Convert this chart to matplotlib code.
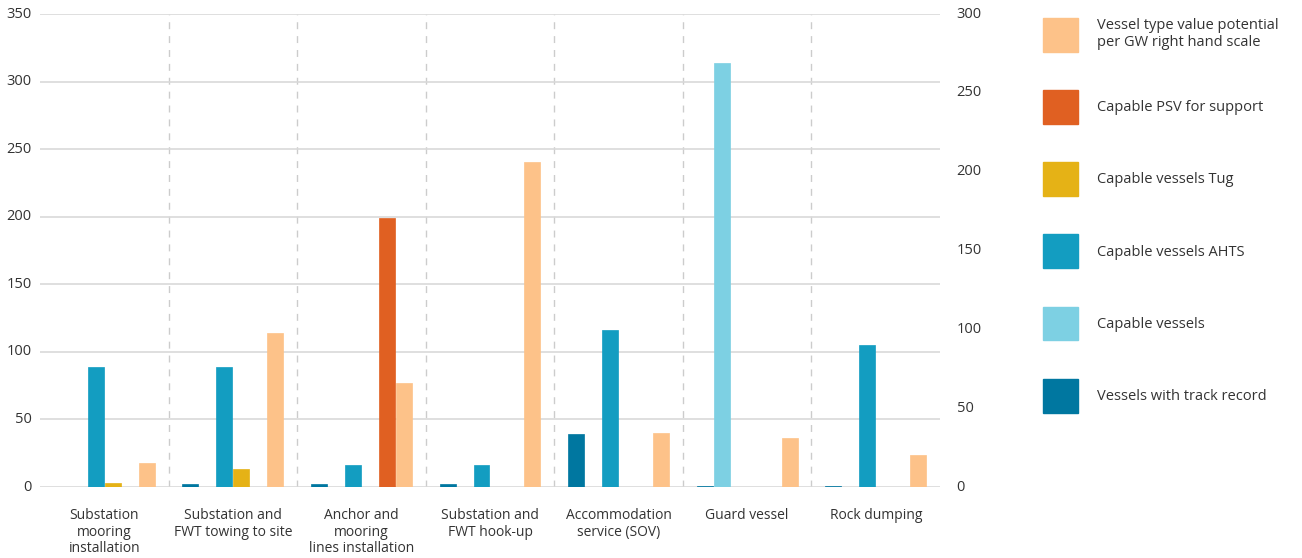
#!/usr/bin/env python3
"""Grouped bars of vessel availability per offshore task, value potential on a second scale."""

import matplotlib

matplotlib.use("Agg")
import matplotlib.pyplot as plt
import numpy as np
from matplotlib.patches import Patch

plt.rcParams["font.family"] = ["Open Sans", "DejaVu Sans"]

categories = [
    "Substation\nmooring\ninstallation",
    "Substation and\nFWT towing to site",
    "Anchor and\nmooring\nlines installation",
    "Substation and\nFWT hook-up",
    "Accommodation\nservice (SOV)",
    "Guard vessel",
    "Rock dumping",
]

# left hand scale (number of vessels)
track_record = [0, 2, 2, 2, 39, 1, 1]
capable = [0, 0, 0, 0, 0, 314, 0]
capable_ahts = [89, 89, 16, 16, 116, 0, 105]
capable_tug = [3, 13, 0, 0, 0, 0, 0]
capable_psv = [0, 0, 199, 0, 0, 0, 0]
# right hand scale
value_potential = [15, 98, 66, 206, 34, 31, 20]

left_series = [
    ("Vessels with track record", track_record, "#0077a0"),
    ("Capable vessels", capable, "#7dd0e3"),
    ("Capable vessels AHTS", capable_ahts, "#139dc1"),
    ("Capable vessels Tug", capable_tug, "#e5b216"),
    ("Capable PSV for support", capable_psv, "#e06022"),
]
value_label = "Vessel type value potential\nper GW right hand scale"
value_color = "#fdc289"

text_color = "#333333"
grid_color = "#d9d9d9"


def main():
    fig = plt.figure(figsize=(13.02, 5.58), dpi=100)
    ax = fig.add_axes([0.0307, 0.1272, 0.6913, 0.8477])
    ax2 = ax.twinx()

    x = np.arange(len(categories))
    pitch = 0.132
    width = 0.124

    for i, (label, vals, color) in enumerate(left_series):
        ax.bar(x + (i - 2.5) * pitch, vals, width, color=color,
               edgecolor=color, linewidth=0.5, zorder=3)
    ax2.bar(x + 2.5 * pitch, value_potential, width, color=value_color,
            edgecolor=value_color, linewidth=0.5, zorder=3)

    ax.set_xlim(-0.5, len(categories) - 0.5)
    ax.set_ylim(0, 350)
    ax2.set_ylim(0, 300)
    ax.set_yticks(np.arange(0, 351, 50))
    ax2.set_yticks(np.arange(0, 301, 50))

    ax.grid(True, axis="y", color=grid_color, linewidth=1.2, zorder=0)
    for sep in x[:-1] + 0.5:
        ax.axvline(sep, color="#cccccc", linestyle=(0, (5, 5)), linewidth=1.0, zorder=1)

    for a in (ax, ax2):
        for spine in a.spines.values():
            spine.set_visible(False)
        a.tick_params(length=0, colors=text_color, labelsize=10.5)

    ax.set_xticks(x)
    ax.set_xticklabels(categories, fontsize=10, color=text_color, linespacing=1.15, va="top")
    ax.tick_params(axis="x", pad=15)
    ax.tick_params(axis="y", pad=6)
    ax2.tick_params(axis="y", pad=12)
    for lbl in ax.get_yticklabels() + ax2.get_yticklabels():
        lbl.set_verticalalignment("center")

    handles = [Patch(color=value_color, label=value_label)]
    handles += [Patch(color=c, label=l) for l, _, c in reversed(left_series)]
    fig.legend(
        handles=handles,
        loc="upper left",
        bbox_to_anchor=(0.791, 0.992),
        frameon=False,
        fontsize=10.5,
        handlelength=2.4,
        handleheight=3.2,
        labelspacing=2.62,
        handletextpad=1.3,
        labelcolor=text_color,
    )

    fig.savefig("out.png", dpi=100)
    plt.close(fig)


if __name__ == "__main__":
    main()
